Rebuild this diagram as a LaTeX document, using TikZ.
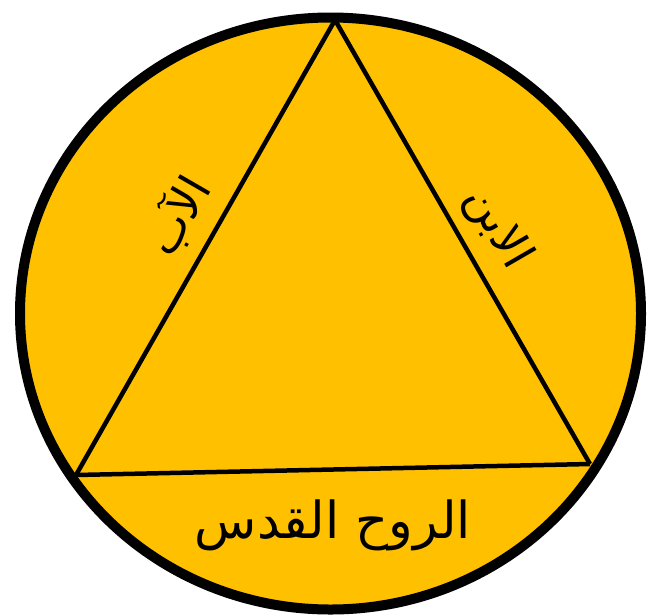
\documentclass[tikz,border=0pt]{standalone}
\usepackage{fontspec}
\newfontfamily\arabicfont[Script=Arabic]{DejaVu Sans}
\TeXXeTstate=1
\definecolor{gold}{HTML}{FFC000}
\begin{document}
\begin{tikzpicture}[x=1pt,y=-1pt,
  rim/.style={draw=black,line width=10pt,fill=gold},
  edge/.style={draw=black,line width=4.5pt,line join=miter},
  lbl/.style={inner sep=0pt,font=\arabicfont}]
\useasboundingbox (0,0) rectangle (658,614);
\draw[rim] (330.5,313.5) ellipse [x radius=310.5, y radius=296];
\coordinate (top) at (335,20);
\coordinate (bl) at (76,475);
\coordinate (br) at (590,464);
\draw[edge] (top) -- (bl);
\draw[edge] (top) -- (br);
\draw[edge] (bl) -- (br);
\node[lbl,font=\arabicfont\fontsize{46}{52}\selectfont,rotate=60] (father) at (178,216) {\beginR الآب\endR};
\node[lbl,font=\arabicfont\fontsize{46}{52}\selectfont,rotate=-60] (son) at (497,228) {\beginR الابن\endR};
\node[lbl,font=\arabicfont\fontsize{51}{58}\selectfont] (spirit) at (333,525) {\beginR الروح القدس\endR};
\end{tikzpicture}
\end{document}
